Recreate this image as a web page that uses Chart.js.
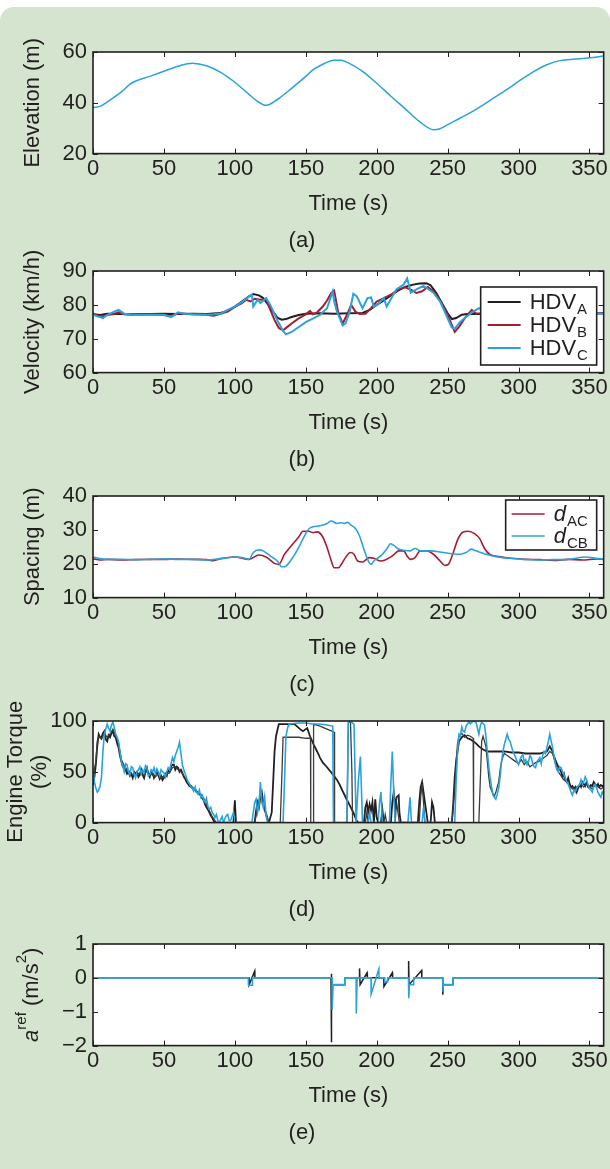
<!DOCTYPE html>
<html>
<head>
<meta charset="utf-8">
<script src="https://cdn.jsdelivr.net/npm/chart.js@4.4.1/dist/chart.umd.min.js"></script>
<style>
  html, body { margin: 0; padding: 0; background: #fff; }
  body { width: 610px; height: 1169px; position: relative; overflow: hidden; }
  #panel { position: absolute; left: 0; top: 7px; width: 610px; height: 1162px; background: #d4e4cf; border-radius: 14px 14px 0 0; }
  canvas { position: absolute; left: 0; width: 610px; height: 225px; }
</style>
</head>
<body>
<div id="panel"></div>
<canvas id="elevChart" width="610" height="225" style="top:32px"></canvas>
<canvas id="velChart" width="610" height="225" style="top:251px"></canvas>
<canvas id="spaceChart" width="610" height="225" style="top:476px"></canvas>
<canvas id="torqueChart" width="610" height="225" style="top:701px"></canvas>
<canvas id="refChart" width="610" height="225" style="top:924px"></canvas>
<script>
const TEXT = '#231f20';
const BLUE = '#29a3dc';
const RED = '#a61c32';
const BLACK = '#231f20';
const GRAY = '#3c3c3c';
const FONT = '"Liberation Sans", Arial, Helvetica, sans-serif';
const FS = 22;

// shared time axis
const timeTicks = [0, 50, 100, 150, 200, 250, 300, 350];

// (a) elevation
const elevTime = [0,5,10,20,27,40,50,60,70,80,90,100,110,115,122,130,140,150,155,160,170,175,180,190,200,210,220,230,240,245,250,260,270,280,290,300,310,320,330,340,350,360];
const elevation = [38.1,38.6,40.3,44.3,47.7,50.4,52.4,54.4,55.6,54.6,52,48.1,43.3,41,39,41.3,45.7,50.4,53,54.6,56.8,56.8,55.7,52.4,47.7,42.6,37.7,32.7,29.4,29.9,31.4,34.3,37.4,41,44.6,48.4,52.1,55,56.7,57.2,57.7,58.4];
const elevTicks = [20, 40, 60];

// (b) velocity
const velTimeA = [0,5,10,20,30,40,50,60,70,80, 90,95,100,105,110,113,117,120,125,130, 133,136,140,145,150,160,170,180,190,195,
  200,205,210,215,220,225,230,235,238,242, 246,250,253,256,260,265,270,280,290,300, 310,320,330,340,350,360];
const velA = [77.2,77.0,77.4,77.3,77.2,77.3,77.4,77.3,77.4,77.3, 77.6,78.3,79.5,81,82.5,83.2,82.8,82,79.2,76.2, 75.6,75.8,76.4,77,77.4,77.5,77.4,77.5,77.6,78.5,
  80,81.3,82.8,84.2,85.3,85.9,86.3,86.4,85.8,83.5, 80.5,77.5,75.8,76.1,77.1,77.4,77.3,77.4,77.3,77.5, 77.4,77.3,77.5,77.4,77.6,77.5];
const velTimeB = [0,3,6,10,15,18,22,30,40,50, 55,60,70,80,85,90,95,100,105,108, 111,114,118,122,125,128,131,134,137,140,
  145,150,153,155,158,162,165,168,170,173, 176,179,182,185,188,192,196,200,205,210, 215,220,225,228,232,236,240,245,250,253,
  255,258,262,267,270,280,290,300,320,340, 360];
const velB = [77.5,76.8,76.5,77,77.3,77.8,77.2,77,77.2,77, 76.6,77.5,77.2,77.1,76.8,77.4,78,79.4,80.5,81.5, 81,81.8,81.5,81.6,78.5,75.5,73.2,72.5,73.5,74.5,
  76,77.2,78.2,77.2,77.8,79.5,81.3,83.5,84.2,77.5, 74.5,77,80,78,77.3,77.4,79,81,82,83, 84.5,85.2,84.3,83.5,84,85.3,84,81,77,74,
  72,73.5,76,78.5,77.5,77.3,77.4,77.3,77.5,77.4, 77.5];
const velTimeC = [0,3,5,7,10,15,18,22,30,40, 50,55,60,65,70,80,85,90,95,100, 105,110,112,113,116,118,122,125,130,134,
  136,140,150,160,165,169,170,172,176,178, 181,183.5,186,190,193.5,196,198,201.6,205,207, 211,214,219,221.5,224,228,233,236.5,240,244.7,
  249,252.8,255,258.6,263,268,272,280,290,300, 320,340,355,360];
const velC = [77.1,76.6,76.4,76.1,77,78,78.5,77.4,77,77.1, 77.1,76.4,77.8,77.3,77.2,77.1,77.2,77.4,78.5,79.5, 80.8,82.5,83,79.5,81.5,80.5,82,80,75.4,72.3,
  71.3,72,74.9,77,79,84,81,78,73.9,74.5, 78,83.3,82.5,79,82,82.2,79.5,80.5,82,79.5, 82.5,84.6,86,87.8,83.6,84.6,85.6,84.6,83.6,81,
  77,73.4,72.9,74.9,76.4,78,79,78.5,77.6,77.3, 77.5,77.4,77.5,77.4];
const velTicks = [60, 70, 80, 90];

// (c) spacing
const spaceTimeAC = [0,5,10,20,30,40,50,60,70,80, 85,90,100,110,117,122,128,131,135,140, 145,148,152,155,158,162,165,168,170,173,
  175,178,181.4,184,186.5,190,194.7,198,202.8,206, 211,215.6,219,221.4,223.7,227,230.7,235.3,240,244.7,
  248,250.5,254,257.4,261,264.4,269,272.6,276,279.5, 286.5,295,305,315,325,335,345,355,360];
const spaceAC = [21.5,21.1,21.3,21.1,21.2,21.3,21.3,21.4,21.3,21.2, 20.9,21.5,22,21.3,22.6,22,20.1,19.8,22.8,25.4, 27.9,29.6,29.6,29.2,29.4,27.9,24.8,20.8,18.8,18.8,
  19.8,21.8,23.3,22.8,20.8,20.5,21.8,21.6,20.8,21.1, 22.3,23.8,23.8,22.3,21.3,21.8,23.8,23.8,22.8,20.8,
  19.5,19.8,23.3,27.4,29.4,29.6,28.9,27.4,24.5,22.8, 22.1,21.6,21.3,21.2,21,21.3,21.1,21.4,21.3];
const spaceTimeCB = [0,5,10,20,30,40,50,60,70,80, 90,100,105,110,113,117,120,125,130,133, 135,140,145,150,153,160,165,168,172,175,
  177,179.5,181.9,185,187.7,191,194.7,196,198,202.8, 207,209.8,212,215.6,219,223.7,227,230.7,237.7,247,
  258.6,263,266.7,270,277,284,293.5,302.8,312,325, 335,347,356,360];
const spaceCB = [22,21.5,21.3,21.3,21.2,21.3,21.4,21.3,21.3,21.1, 21.5,22,21.8,21.3,23.3,24.1,23.8,22.3,20.8,19.1, 19.1,21.3,24.8,28.9,30.6,31.2,31.9,32.6,31.9,32.1,
  31.9,32.2,31.4,30.4,28.4,24.3,20.3,19.8,20.8,22.3, 24.3,25.9,25.4,24.3,24,23.8,24.5,23.8,23.8,23.3,
  22.8,23.3,24.3,23.8,22.8,22.1,21.6,21.3,21.1,21.2, 21.3,22,21.5,21.4];
const spaceTicks = [10, 20, 30, 40];

// (d) engine torque
const torqueTimeA = [0,1,2,3,4,5,6,7,8,9, 10,11,12,13,14,15,16,17,18,19, 20,21,22,23,24,25,26,27,28,29,
  30,31,32,33,34,35,36,37,38,39, 40,41,42,43,44,45,46,47,48,49, 50,51,52,53,54,55,56,57,58,59,
  60,61,62,63,64,65,66,67,68,69, 70,71,72,73,74,75,76,77,78,79, 80,81,82,83,84,85,86,
  99,100,100.8, 114,115,116,117,118,119,120,121,122,123,124,
  126,127,128,129,131,136,142,146,148,150,151,153,
  155.5,158,160,162,164.7,167,169.3,172,174,176,178.8,181,183.5,185.8,187,
  191,192,193,194,195,196,197,198,199,200,201, 203,204,205, 210,211,212,213,214,215.5,216,217,
  229,230,231,232,233,234,235,236, 238,239,240,241, 253,254,255,256,257,258,
  260,262,264,266,268,270,272,275,278,280, 285,290,295,300,305,310,315,320,322,324,325,327,328,330,
  331,332,333,334,335,336,337,338,339,340, 341,342,343,344,345,346,347,348,349,350, 351,352,353,354,355,356,357,358,359,360];
const torqueA = [37,45,57,75,87,84,84,88,90,82, 80,86,84,88,90,85,84,78,74,66, 60,55,54,52,48,50,46,48,44,50,
  48,50,45,47,52,47,44,50,54,48, 45,50,49,44,47,50,47,43,46,42, 44,48,46,52,50,55,57,57,52,55,
  54,50,52,49,45,43,40,38,36,35, 34,32,33,30,29,28,27,24,22,18, 15,13,10,7,5,2,0,
  0,22,0, 0,12,20,15,25,30,20,13,8,3,0,
  10,40,70,85,97,97,97,92,90,92,93,85,
  77,70,64,59,55,51,47,42,37,31,23,17,10,2,0,
  0,15,20,10,18,12,20,0,23,5,0, 0,13,0, 0,20,30,15,25,27,10,0,
  0,20,35,40,30,20,10,0, 0,20,15,0, 0,20,45,60,70,80,
  84,86,83,82,80,78,75,72,70,70, 70,70,69,69,68,68,68,70,75,70,65,58,55,50,
  45,48,42,40,44,38,35,36,33,35, 30,34,37,35,40,38,36,40,35,34, 37,36,40,38,36,38,35,37,36,36];
const torqueTimeB = [0,2,3,4, 6,8,10,12,14,16,18,20,22,24, 26,28,30,32,34,36,38,40,42,44, 46,48,50,52,54,56,58,60,62,64,
  66,68,70,72,74,76,78,80,82,84, 86,87, 114,116,118,120,122,124, 132,133,134,145,150,153.3,153.5,
  155.3,155.5,160,165,170,170.3, 179,180,181.5,182.5,183, 192,193,194, 205,206,207, 213,214,215,216,
  230,231,232,233,234, 253,255,256,257,258, 260,262,264,266,268,268.3, 272,273,274,275,276,277,278,279,280,
  282,283,284, 286,287,288,289,290, 292,294,296,298,300,302,304,306,308,310, 312,314,316,318,320,322,324,326,328,330,
  332,334,336,338,340,342,344,346,348,350, 352,354,356,358,360];
const torqueB = [45,60,80,85, 82,88,84,87,92,86,78,62,56,52, 50,47,46,48,50,46,51,48,47,45, 48,44,46,48,49,54,55,52,50,46,
  42,38,35,32,30,28,24,18,12,6, 2,0, 0,15,28,18,10,0, 0,40,84,84,83,83,0,
  0,97,95,92,89,0, 0,98,100,50,0, 0,10,0, 0,8,0, 0,20,10,0,
  0,25,38,20,0, 0,30,60,78,85, 88,84,86,85,83,0, 0,40,80,85,80,75,60,45,35,
  28,26,30, 40,52,60,65,68, 66,64,62,60,58,62,57,60,55,57, 59,60,62,64,66,70,68,58,50,46,
  42,40,36,33,34,36,38,35,38,36, 33,37,35,33,35];
const torqueTimeC = [0,1,2,3,4,5,6,7,8,9, 10,11,12,13,14,15,16,17,18,19, 20,21,22,23,24,25,26,27,28,29,
  30,31,32,33,34,35,36,37,38,39, 40,41,42,43,44,45,46,47,48,49, 50,51,52,53,54,55,56,57,58,59,
  60,61,62,63,64,65,66,67,68,69, 70,71,72,73,74,75,76,77,78,79, 80,81,82,83,84,85,86,87,88,89,
  90,91,92,93,94,95,96,97,98,99, 100,101,
  112,113,114,115,116,117,118,119,120,121,122,123,
  134,135,136,137.5,138,145,150,155,160,165,169,169.5,
  179,180,182,184,185.5,187,188.5,190, 194,195,196, 201,202,203,204, 209,210,211,212,213,
  222,223.5,224.5, 232,233,234,
  255,256,257,258,259,260,261,262,263, 265,266,268,270,271,272,273,274,276,
  277,278,279,280,281,282,283,284,285,286, 287,288,289,290,291,292,293,294,295,296,
  297,298,299,300,301,302,303,304,305,306, 307,308,309,310,311,312,313,314,315,316,
  317,318,319,320,321,322,323,324,325,326, 327,328,329,330,331,332,333,334,335,336,
  337,338,339,340,341,342,343,344,345,346, 347,348,349,350,351,352,353,354,355,356, 357,358,359,360];
const torqueC = [54,40,34,30,32,36,45,70,87,92, 97,93,90,96,99,94,87,84,80,70, 60,56,50,58,57,50,47,55,54,48,
  44,50,52,55,48,52,49,56,54,46, 47,52,50,54,48,53,50,46,52,50, 49,45,50,54,52,58,64,60,66,70,
  74,79,68,57,52,48,44,40,38,35, 34,31,35,30,28,32,25,27,22,20, 24,16,13,15,10,8,5,8,2,0,
  3,6,0,4,7,8,2,2,6,10, 3,0,
  0,10,20,23,10,17,40,20,15,25,7,0,
  0,40,85,95,97,98,98,97,97,96,95,0,
  0,100,99,97,0,40,65,0, 0,10,0, 0,20,30,0, 0,40,70,30,0,
  0,25,0, 0,15,0,
  0,40,70,87,85,94,90,89,95, 99,97,100,99,93,87,95,99,96,
  85,70,55,44,35,27,25,23,28,34, 45,60,70,77,82,87,82,80,75,70,
  67,64,60,57,62,65,67,60,62,57, 60,66,64,58,55,54,60,62,64,58,
  66,70,68,74,80,87,80,74,65,57, 52,50,55,54,50,47,44,40,38,34,
  30,27,32,30,34,36,37,42,38,40, 45,42,37,34,32,30,36,38,34,30, 27,25,30,28];
const torqueTicks = [0, 50, 100];

// (e) reference acceleration
const refTimeA = [0,110,110.1,114,114.1, 167.8,167.9,168.1,168.4,177.4,177.5, 187.8,187.9,188.3,193.2,193.4,
  205,205.1,211,211.2, 222.4,222.5,222.8,231.7,231.8, 246.5,246.6,247,253.6,253.7,360];
const refA = [0,0,-0.2,0.2,0, 0,0.12,-1.9,-0.2,-0.2,0, 0,0.28,-0.2,0.15,0,
  0,-0.26,0.15,0, 0,0.5,-0.2,0.22,0, 0,-0.5,-0.2,-0.2,0,0];
const refTimeC = [0,109.5,109.6,112.3,112.4, 168.5,168.6,169.3,177.4,177.5, 185.5,185.6,186.2,
  196,196.1,201.5,201.7, 205.6,205.7,207.6,207.7, 222.4,222.6,223,226,226.1, 246.6,246.7,247,253.6,253.7,360];
const refC = [0,0,-0.22,-0.22,0, 0,-0.95,-0.2,-0.2,0, 0,-1.05,0,
  0,-0.48,0.26,0, 0,-0.12,-0.12,0, 0,-0.6,-0.2,-0.2,0, 0,-0.4,-0.2,-0.2,0,0];
const refTicks = [-2, -1, 0, 1];

function pairs(xs, ys) {
    return xs.map((x, i) => ({x: x, y: ys[i]}));
}

// white plot area, box and inward ticks like the original figure
const framePlugin = {
    id: 'matlabFrame',
    beforeDraw(chart) {
        const a = chart.chartArea;
        chart.ctx.save();
        chart.ctx.fillStyle = '#fff';
        chart.ctx.fillRect(a.left, a.top, a.right - a.left, a.bottom - a.top);
        chart.ctx.restore();
    },
    afterDatasetsDraw(chart) {
        const {ctx, chartArea: a, scales} = chart;
        const len = 5;
        ctx.save();
        ctx.strokeStyle = TEXT;
        ctx.lineWidth = 1;
        ctx.beginPath();
        scales.x.ticks.forEach(t => {
            const px = Math.round(scales.x.getPixelForValue(t.value)) + 0.5;
            ctx.moveTo(px, a.bottom); ctx.lineTo(px, a.bottom - len);
            ctx.moveTo(px, a.top); ctx.lineTo(px, a.top + len);
        });
        scales.y.ticks.forEach(t => {
            const py = Math.round(scales.y.getPixelForValue(t.value)) + 0.5;
            ctx.moveTo(a.left, py); ctx.lineTo(a.left + len, py);
            ctx.moveTo(a.right, py); ctx.lineTo(a.right - len, py);
        });
        ctx.stroke();
        ctx.lineWidth = 1.6;
        ctx.strokeRect(a.left, a.top, a.right - a.left, a.bottom - a.top);
        ctx.restore();
    }
};

// legend with subscripts (labels written as MAIN_SUB)
function legendPlugin(box) {
    return {
        id: 'subLegend',
        afterDraw(chart) {
            const {ctx, chartArea: a} = chart;
            const x0 = a.right - box.right - box.width;
            const y0 = a.top + box.top;
            ctx.save();
            ctx.fillStyle = '#fff';
            ctx.fillRect(x0, y0, box.width, box.height);
            ctx.strokeStyle = TEXT;
            ctx.lineWidth = 1.6;
            ctx.strokeRect(x0, y0, box.width, box.height);
            chart.data.datasets.forEach((ds, i) => {
                const y = y0 + box.firstRow + i * box.rowGap;
                ctx.strokeStyle = ds.borderColor;
                ctx.lineWidth = box.lineWidth;
                ctx.beginPath();
                ctx.moveTo(x0 + box.lineX, y);
                ctx.lineTo(x0 + box.lineX + 33, y);
                ctx.stroke();
                const parts = ds.label.split('_');
                ctx.fillStyle = TEXT;
                ctx.textAlign = 'left';
                ctx.textBaseline = 'middle';
                ctx.font = (box.italic ? 'italic ' : '') + FS + 'px ' + FONT;
                ctx.fillText(parts[0], x0 + box.textX, y + 1);
                const w = ctx.measureText(parts[0]).width;
                ctx.font = '15px ' + FONT;
                ctx.fillText(parts[1], x0 + box.textX + w + 1, y + 8);
            });
            ctx.restore();
        }
    };
}

// y title with superscripts for panel (e)
const refTitlePlugin = {
    id: 'refTitle',
    afterDraw(chart) {
        const {ctx, chartArea: a} = chart;
        const pieces = [
            {t: 'a', font: 'italic 22px ', dy: 0},
            {t: 'ref', font: '15px ', dy: -10},
            {t: ' (m/s', font: '22px ', dy: 0},
            {t: '2', font: '15px ', dy: -10},
            {t: ')', font: '22px ', dy: 0}
        ];
        ctx.save();
        let total = 0;
        pieces.forEach(p => { ctx.font = p.font + FONT; p.w = ctx.measureText(p.t).width; total += p.w; });
        ctx.translate(32, (a.top + a.bottom) / 2);
        ctx.rotate(-Math.PI / 2);
        ctx.fillStyle = TEXT;
        ctx.textBaseline = 'middle';
        ctx.textAlign = 'left';
        let x = -total / 2;
        pieces.forEach(p => {
            ctx.font = p.font + FONT;
            ctx.fillText(p.t, x, p.dy);
            x += p.w;
        });
        ctx.restore();
    }
};

function minusSign(v) {
    return String(v).replace('-', '\u2212');
}

function baseOptions(yMin, yMax, yTickVals, yTitle, titlePad, caption, titleLH) {
    return {
        responsive: false,
        animation: false,
        devicePixelRatio: 1,
        events: [],
        layout: { padding: { top: 20, right: 6, left: 0, bottom: 0 } },
        elements: { point: { radius: 0 }, line: { tension: 0 } },
        plugins: {
            legend: { display: false },
            tooltip: { enabled: false },
            title: {
                display: true, position: 'bottom', text: caption, color: TEXT,
                font: { size: FS, weight: 'normal', family: FONT },
                padding: { top: 10, bottom: 3 }
            }
        },
        scales: {
            x: {
                type: 'linear', min: 0, max: 360,
                afterBuildTicks: s => { s.ticks = timeTicks.map(v => ({value: v})); },
                afterFit: s => { s.height = 64; },
                grid: { display: false, drawTicks: false },
                border: { display: false },
                ticks: { padding: 2, color: TEXT, font: { size: FS, family: FONT }, maxRotation: 0, callback: minusSign },
                title: { display: true, text: 'Time (s)', color: TEXT, font: { size: FS, family: FONT }, padding: { top: 0, bottom: 0 } }
            },
            y: {
                type: 'linear', min: yMin, max: yMax,
                afterBuildTicks: s => { s.ticks = yTickVals.map(v => ({value: v})); },
                afterFit: s => { s.width = 93; },
                grid: { display: false, drawTicks: false },
                border: { display: false },
                ticks: { padding: 6, color: TEXT, font: { size: FS, family: FONT }, callback: minusSign },
                title: {
                    display: yTitle !== null, text: yTitle || '', color: TEXT,
                    font: { size: FS, family: FONT, lineHeight: titleLH || 1.2 },
                    padding: { top: titlePad, bottom: 0 }
                }
            }
        }
    };
}

Chart.defaults.font.family = FONT;

new Chart(document.getElementById('elevChart'), {
    type: 'line',
    data: { datasets: [
        { label: 'Elevation', data: pairs(elevTime, elevation), borderColor: BLUE, borderWidth: 1.5, cubicInterpolationMode: 'monotone' }
    ] },
    options: baseOptions(20, 60, elevTicks, 'Elevation (m)', 20, '(a)'),
    plugins: [framePlugin]
});

new Chart(document.getElementById('velChart'), {
    type: 'line',
    data: { datasets: [
        { label: 'HDV_A', data: pairs(velTimeA, velA), borderColor: BLACK, borderWidth: 2, order: 3 },
        { label: 'HDV_B', data: pairs(velTimeB, velB), borderColor: RED, borderWidth: 2, order: 2 },
        { label: 'HDV_C', data: pairs(velTimeC, velC), borderColor: BLUE, borderWidth: 2, order: 1 }
    ] },
    options: baseOptions(60, 90, velTicks, 'Velocity (km/h)', 20, '(b)'),
    plugins: [framePlugin, legendPlugin({ right: 7, top: 16, width: 116, height: 78, firstRow: 15, rowGap: 23, lineX: 7, textX: 49, lineWidth: 2, italic: false })]
});

new Chart(document.getElementById('spaceChart'), {
    type: 'line',
    data: { datasets: [
        { label: 'd_AC', data: pairs(spaceTimeAC, spaceAC), borderColor: RED, borderWidth: 1.6, order: 2, cubicInterpolationMode: 'monotone' },
        { label: 'd_CB', data: pairs(spaceTimeCB, spaceCB), borderColor: BLUE, borderWidth: 1.6, order: 1, cubicInterpolationMode: 'monotone' }
    ] },
    options: baseOptions(10, 40, spaceTicks, 'Spacing (m)', 20, '(c)'),
    plugins: [framePlugin, legendPlugin({ right: 7, top: 4, width: 91, height: 50, firstRow: 14, rowGap: 22, lineX: 6, textX: 48, lineWidth: 1.6, italic: true })]
});

new Chart(document.getElementById('torqueChart'), {
    type: 'line',
    data: { datasets: [
        { label: 'HDV_A', data: pairs(torqueTimeA, torqueA), borderColor: BLACK, borderWidth: 1.8, order: 3 },
        { label: 'HDV_B', data: pairs(torqueTimeB, torqueB), borderColor: GRAY, borderWidth: 1.3, order: 2 },
        { label: 'HDV_C', data: pairs(torqueTimeC, torqueC), borderColor: BLUE, borderWidth: 1.6, order: 1 }
    ] },
    options: baseOptions(0, 100, torqueTicks, ['Engine Torque', '(%)'], 3.4, '(d)', 1.1),
    plugins: [framePlugin]
});

new Chart(document.getElementById('refChart'), {
    type: 'line',
    data: { datasets: [
        { label: 'HDV_A', data: pairs(refTimeA, refA), borderColor: BLACK, borderWidth: 1.5, order: 2 },
        { label: 'HDV_C', data: pairs(refTimeC, refC), borderColor: BLUE, borderWidth: 1.6, order: 1 }
    ] },
    options: baseOptions(-2, 1, refTicks, null, 20, '(e)'),
    plugins: [framePlugin, refTitlePlugin]
});
</script>
</body>
</html>
